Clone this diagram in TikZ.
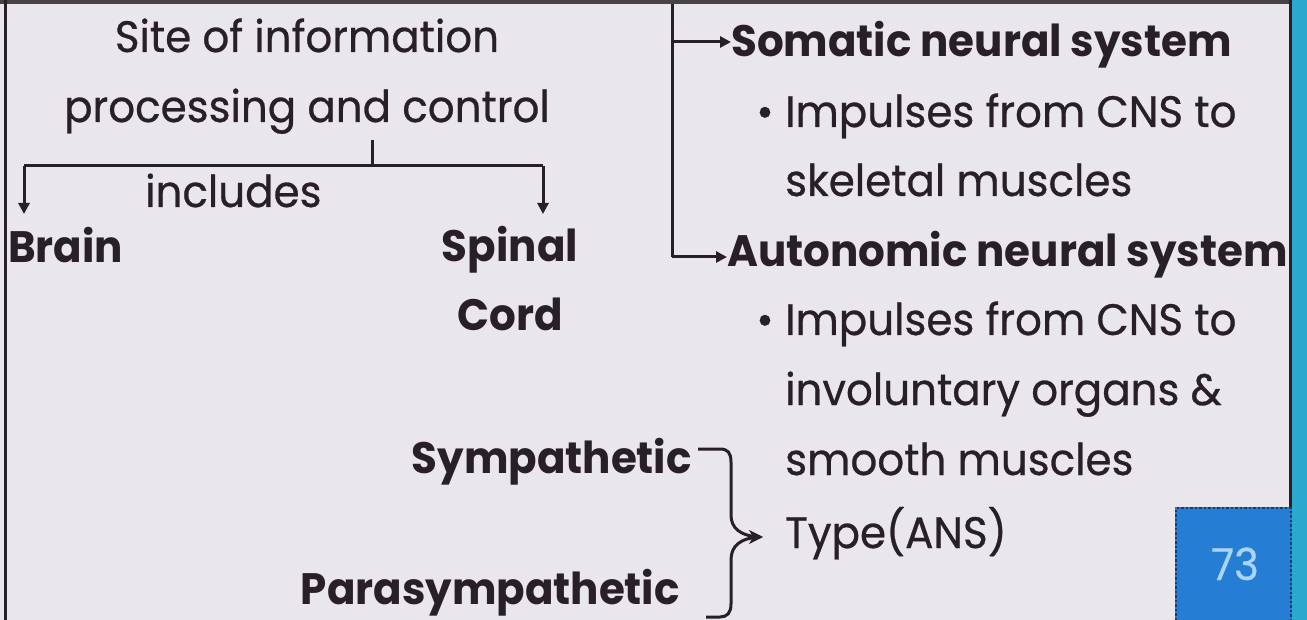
\documentclass[tikz,border=0pt]{standalone}
\usepackage{fontspec}
\setmainfont{Poppins}[FakeStretch=0.955, UprightFeatures={FakeBold=0.6}]
\usetikzlibrary{arrows.meta}
\definecolor{bg}{RGB}{233,231,236}
\definecolor{ink}{RGB}{40,32,38}
\definecolor{boxblue}{RGB}{38,126,212}
\definecolor{stripteal}{RGB}{42,168,206}
\definecolor{numc}{RGB}{170,212,242}
\begin{document}
\begin{tikzpicture}[x=1pt,y=-1pt,
  txt/.style={inner sep=0pt, text=ink, font=\fontsize{44}{70}\selectfont},
  bold/.style={inner sep=0pt, text=ink, font=\fontsize{44}{70}\selectfont\bfseries},
  ln/.style={draw=ink, line width=3pt},
  arr/.style={ln, -{Triangle[length=11pt,width=11pt]}}]
\fill[bg] (0,0) rectangle (1307,620);
\useasboundingbox (0,0) rectangle (1307,620);
\fill[stripteal] (1292,0) rectangle (1307,620);
% frame
\draw[ink!85, line width=4pt] (0,2) -- (1292,2);
\draw[ink, line width=3pt] (5,0) -- (5,620);
\draw[ink, line width=3pt] (1290,0) -- (1290,507);
% page number box
\fill[boxblue] (1175,507) rectangle (1292,620);
\draw[boxblue!50!black, line width=2.5pt, dotted] (1176,620) -- (1176,508) -- (1291,508) -- (1291,620);
\node[inner sep=0pt, text=numc, font=\fontsize{44}{50}\selectfont, anchor=base] (num) at (1235,580) {73};
% left part
\node[txt, anchor=base] (site) at (307,52) {Site of information};
\node[txt, anchor=base] (proc) at (307,122) {processing and control};
\node[txt, anchor=base west] (incl) at (145,207) {includes};
\node[bold, anchor=base west] (brain) at (8,263) {Brain};
\node[bold, anchor=base] (spinal) at (510,262) {Spinal};
\node[bold, anchor=base] (cord) at (510,331) {Cord};
\coordinate (tick) at (372,140);
\coordinate (junc) at (372,166);
\coordinate (lc) at (24,166);
\coordinate (rc) at (543,166);
\draw[ln] (tick) -- (junc);
\draw[ln] (lc) -- (rc);
\draw[arr] (lc) -- (lc |- 0,214);
\draw[arr] (rc) -- (rc |- 0,214);
% right part
\node[bold, anchor=base west] (som) at (731,57) {Somatic neural system};
\node[txt, anchor=base west] (i1) at (785,127) {Impulses from CNS to};
\node[txt, anchor=base west] (sk) at (785,196) {skeletal muscles};
\node[bold, anchor=base west] (aut) at (727,267) {Autonomic neural system};
\node[txt, anchor=base west] (i2) at (785,335) {Impulses from CNS to};
\node[txt, anchor=base west] (inv) at (785,405) {involuntary organs \&};
\node[txt, anchor=base west] (sm) at (785,475) {smooth muscles};
\node[txt, anchor=base west] (typ) at (785,548) {Type(ANS)};
\node[txt, anchor=base] (bul1) at (765,127) {\textbullet};
\node[txt, anchor=base] (bul2) at (765,335) {\textbullet};
\coordinate (top) at (672,4);
\coordinate (sa) at (672,42);
\coordinate (aa) at (672,257);
\draw[ln] (top) -- (aa);
\draw[arr] (sa) -- (som.west |- sa);
\draw[arr] (aa) -- (aut.west |- aa);
% types
\node[bold, anchor=base east] (symp) at (692,473) {Sympathetic};
\node[bold, anchor=base east] (para) at (680,604) {Parasympathetic};
\coordinate (b1) at (698,449);
\coordinate (tip) at (760,537);
\coordinate (b2) at (706,617);
\draw[ln] (b1) -- (720,449) .. controls (728,449) and (731,453) .. (731,462) -- (731,515) .. controls (731,528) and (740,536) .. (tip);
\draw[ln] (tip) .. controls (740,538) and (731,546) .. (731,560) -- (731,604) .. controls (731,613) and (727,617) .. (720,617) -- (b2);
\fill[ink] (tip) ++(3,0) -- ++(-14,-7) -- ++(4,7) -- ++(-4,7) -- cycle;
\end{tikzpicture}
\end{document}
